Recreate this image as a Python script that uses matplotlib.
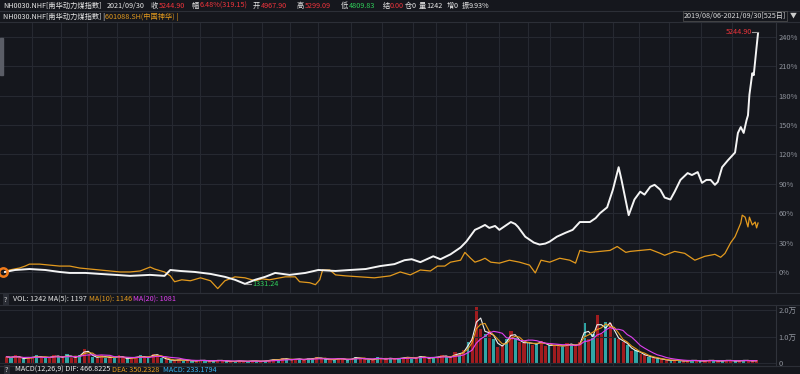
import numpy as np
import pandas as pd
import matplotlib
matplotlib.use("Agg")
import matplotlib.pyplot as plt

plt.rcParams['font.family'] = ['Noto Sans CJK SC', 'DejaVu Sans']

# --- data (trading-day index, % change from 2019/08/06) ---
days_coal = [0, 7, 17, 28, 38, 45, 56, 66, 77, 87, 101, 111, 115, 122, 132, 143, 153, 160, 167,
             174, 181, 188, 198, 209, 218, 230, 240, 251, 261, 271, 278, 283, 289, 298, 303, 310,
             317, 321, 327, 330, 334, 337, 341, 344, 348, 352, 355, 357, 362, 368, 372, 376, 379,
             384, 390, 395, 400, 404, 407, 411, 414, 419, 423, 427, 429, 434, 438, 442, 445, 449,
             452, 456, 459, 463, 466, 470, 475, 478, 482, 485, 488, 491, 494, 496, 499, 503, 508,
             510, 512, 514, 516, 517, 518, 520, 521, 523, 524]
pct_coal = [0, 2, 3, 2, 0, -1, -1, -2, -3, -4, -3, -4, 2, 1, 0, -2, -5, -8, -12.2,
            -8, -5, -1, -3, -1, 2, 1, 2, 3, 6, 8, 12, 13, 10, 16, 13, 18,
            25, 31, 43, 45, 48, 45, 47, 43, 47, 51, 49, 46, 36, 30, 28, 29, 31,
            36, 40, 43, 51, 51, 51, 55, 60, 66, 84, 107, 94, 58, 74, 82, 79, 87,
            89, 84, 76, 74, 82, 94, 101, 99, 102, 91, 94, 94, 89, 92, 107, 114, 122,
            142, 148, 142, 155, 160, 181, 203, 201, 230, 244]

days_shenhua = [0, 3, 10, 14, 17, 24, 31, 38, 45, 52, 59, 66, 73, 80, 87, 94, 101, 104, 111,
                115, 118, 123, 129, 136, 143, 148, 153, 160, 167, 174, 179, 184, 195, 202, 205,
                212, 216, 219, 221, 226, 230, 237, 247, 257, 268, 275, 282, 289, 296, 301, 306,
                310, 317, 320, 324, 327, 331, 334, 338, 344, 351, 358, 365, 369, 373, 379, 386,
                393, 397, 400, 407, 414, 421, 426, 432, 435, 442, 449, 456, 459, 466, 473, 480,
                487, 494, 498, 501, 505, 508, 512, 513, 515, 517, 518, 520, 522, 523, 524]
pct_shenhua = [0, 2, 4, 6, 8, 8, 7, 6, 6, 4, 3, 2, 1, 0, 0, 1, 5, 3, 0,
               -4, -10, -8, -9, -6, -9, -17, -9, -5, -6, -9, -7, -8, -5, -5, -10,
               -11, -13, -8, 2, 2, -3, -4, -5, -6, -4, 0, -3, 2, 1, 6, 6,
               10, 12, 20, 14, 10, 12, 14, 10, 9, 12, 10, 7, -1, 12, 10, 14,
               12, 9, 22, 20, 21, 22, 26, 20, 21, 22, 23, 19, 17, 21, 19, 12,
               16, 18, 15, 19, 30, 36, 50, 58, 56, 46, 56, 48, 51, 45, 50]

# volume (万手), one bar per 3 trading days
vol = [0.25, 0.2, 0.3, 0.2, 0.15, 0.25, 0.2, 0.3, 0.2, 0.25, 0.2, 0.3, 0.25, 0.2, 0.35, 0.2, 0.25, 0.3, 0.55, 0.35,
       0.25, 0.2, 0.3, 0.2, 0.25, 0.2, 0.3, 0.2, 0.15, 0.25, 0.2, 0.3, 0.2, 0.25, 0.35, 0.3, 0.2,
       0.15, 0.12, 0.1, 0.15, 0.1, 0.12, 0.08, 0.1, 0.12, 0.1, 0.08, 0.1, 0.12, 0.1,
       0.08, 0.06, 0.08, 0.1, 0.06, 0.08, 0.1, 0.08, 0.07,
       0.1, 0.12, 0.15, 0.12, 0.2, 0.15, 0.12, 0.18, 0.15, 0.12, 0.2, 0.15, 0.25, 0.15, 0.18, 0.12,
       0.15, 0.2, 0.15, 0.12, 0.18, 0.25, 0.15, 0.2, 0.12, 0.15, 0.22, 0.15, 0.18, 0.2, 0.15, 0.2,
       0.2, 0.25, 0.18, 0.22, 0.28, 0.2, 0.18, 0.25, 0.22, 0.3, 0.25, 0.2, 0.42, 0.3,
       0.5, 0.8, 1.0,
       2.1, 1.3, 1.1, 1.2, 0.9, 0.6, 0.7, 0.9, 1.2, 0.95, 0.8, 0.75, 0.8, 0.7, 0.75, 0.85, 0.65, 0.7,
       0.65, 0.7, 0.6, 0.75, 0.7, 0.65, 0.8, 1.5, 0.9, 1.1, 1.8, 1.1, 1.55, 1.5, 1.0, 0.9, 0.8, 0.7,
       0.45, 0.5, 0.35, 0.3, 0.25, 0.2, 0.18,
       0.15, 0.12, 0.1, 0.12, 0.1, 0.08, 0.1, 0.12, 0.1, 0.08, 0.1, 0.12, 0.1, 0.08, 0.1, 0.12,
       0.1, 0.08, 0.1, 0.12, 0.1, 0.08, 0.12]
vol_up = ("rgrrgrrgrgrrgrgrrgrr" "grrgrgrrgrrgrgrrgrg" "rrgrgrrgrgrrgrgrrgrg"
          "rgrrgrgrrgrggrrgrgrr" "grgrrgrgrrgrgrrgrgrr" "grrgrrgrgrrrgrgrrgrg"
          "rrgrgrrgrrgrgrrgrgrr" "grgrrgrgrrgrgrrgrgrr" "grgrrgrgrrgrgrr")

month_starts = [19, 39, 57, 78, 100, 116, 136, 158, 179, 198, 218, 241, 262, 284, 300, 321,
                344, 364, 379, 402, 423, 441, 462, 484, 506]
pct_ticks = [0, 30, 60, 90, 120, 150, 180, 210, 240]

last_close = "5244.90"
low_close = "1331.24"

W, H = 800, 374
BG = '#15171d'
GRID = '#262931'
WHITE = '#e8e8e8'
RED = '#f0343c'
GREEN = '#2fcf5a'
ORANGE = '#e39a1e'
MAGENTA = '#e040f0'
CYAN = '#36b4f0'
GRAY = '#8f939c'
FS = 5.2


def rect(x0, y0, x1, y1):
    return [x0 / W, 1 - y1 / H, (x1 - x0) / W, (y1 - y0) / H]


def ftext(x, y, s, color=WHITE, size=FS, ha='left', **kw):
    fig.text(x / W, 1 - y / H, s, color=color, fontsize=size, va='center', ha=ha, **kw)


fig = plt.figure(figsize=(8, 3.74), dpi=100, facecolor=BG)

# ---- main axes ----
ax = fig.add_axes(rect(0, 23, 776, 293), facecolor=BG)
ax.set_xlim(-3.5, 536.5)
ax.set_ylim(-21.5, 254.3)
ax.set_xticks(month_starts)
ax.set_yticks(pct_ticks)
ax.grid(True, color=GRID, lw=0.8)
ax.tick_params(length=0, labelbottom=False, labelleft=False, labelright=True,
               colors=GRAY, labelsize=5.4, pad=2)
ax.yaxis.set_ticks_position('right')
ax.set_yticklabels([f"{v}%" for v in pct_ticks])
for s in ['top', 'left']:
    ax.spines[s].set_visible(False)
ax.spines['right'].set_color('#30333b')
ax.spines['bottom'].set_color('#30333b')

ax.plot(days_shenhua, pct_shenhua, color=ORANGE, lw=0.9)
ax.plot(days_coal, pct_coal, color='#f4f4f4', lw=1.4)
ax.plot([days_shenhua[0] - 1.5], [pct_shenhua[0]], 'o', ms=6, mfc='none', mec='#f07a1a', mew=1.8)

# last / low labels
ax.plot([days_coal[-1] - 4, days_coal[-1]], [pct_coal[-1] + 1, pct_coal[-1] + 1], color='#999', lw=0.8)
ax.text(days_coal[-1] - 4.5, pct_coal[-1] + 1, last_close, color=RED, fontsize=FS, ha='right', va='center')
i_low = int(np.argmin(pct_coal))
ax.plot([days_coal[i_low] + 0.5, days_coal[i_low] + 4.5], [pct_coal[i_low]] * 2, color='#999', lw=0.8)
ax.text(days_coal[i_low] + 5, pct_coal[i_low], low_close, color=GREEN, fontsize=FS, ha='left', va='center')

# ---- volume axes ----
av = fig.add_axes(rect(0, 305, 776, 366), facecolor=BG)
vdays = np.arange(len(vol)) * 3
colors = ['#a01c1f' if c == 'r' else '#2fa6a6' for c in vol_up[:len(vol)]]
av.bar(vdays, vol, width=2.2, color=colors, align='edge')
vs = pd.Series(vol)
av.plot(vdays + 1, vs.rolling(2, min_periods=1).mean(), color='#f0f0f0', lw=0.8)
av.plot(vdays + 1, vs.rolling(3, min_periods=1).mean(), color=ORANGE, lw=0.8)
av.plot(vdays + 1, vs.rolling(7, min_periods=1).mean(), color=MAGENTA, lw=0.8)
av.set_xlim(-3.5, 536.5)
av.set_ylim(-0.1, 2.19)
av.set_xticks(month_starts)
av.set_yticks([0, 1.0, 2.0])
av.set_yticklabels(['0', '1.0万', '2.0万'])
av.grid(True, color=GRID, lw=0.8)
av.tick_params(length=0, labelbottom=False, labelleft=False, labelright=True,
               colors=GRAY, labelsize=5.4, pad=2)
av.yaxis.set_ticks_position('right')
for s in ['top', 'left']:
    av.spines[s].set_visible(False)
av.spines['right'].set_color('#30333b')
av.spines['bottom'].set_color('#30333b')

# separators
for y in [11, 22, 293, 305, 366]:
    fig.add_artist(plt.Line2D([0, 1], [1 - y / H] * 2, color='#2c2f37', lw=0.8))
fig.add_artist(plt.Rectangle((0, 1 - 75 / H), 2.5 / W, 37 / H, color='#5a5d66'))

# ---- header row 1 ----
ftext(3, 6, "NH0030.NHF[南华动力煤指数]")
ftext(107, 6, "2021/09/30")
for x, s, c in [(151, "收", WHITE), (159, "5244.90", RED), (192, "幅", WHITE), (200, "6.48%(319.15)", RED),
                (253, "开", WHITE), (261, "4967.90", RED), (297, "高", WHITE), (305, "5299.09", RED),
                (341, "低", WHITE), (349, "4809.83", GREEN), (383, "结", WHITE), (390, "0.00", RED),
                (405, "仓", WHITE), (412, "0", WHITE), (419, "量", WHITE), (426, "1242", WHITE),
                (447, "增", WHITE), (454, "0", WHITE), (462, "振", WHITE), (469, "9.93%", WHITE)]:
    ftext(x, 6, s, c)

# ---- header row 2 ----
ftext(3, 17, "NH0030.NHF[南华动力煤指数] |")
ftext(105, 17, "601088.SH(中国神华) |", ORANGE)
ftext(786, 16, "2019/08/06-2021/09/30[525日]", '#d8d8d8', ha='right',
      bbox=dict(boxstyle='square,pad=0.15', fc='none', ec='#555', lw=0.5))
ftext(790, 16, "▼", '#cccccc', size=5)

# ---- volume header ----
qbox = dict(boxstyle='square,pad=0.2', fc='#2a2d35', ec='none')
ftext(4, 299.5, "?", '#cccccc', bbox=qbox)
ftext(13, 299.5, "VOL: 1242 MA(5): 1197")
ftext(89, 299.5, "MA(10): 1146", ORANGE)
ftext(133, 299.5, "MA(20): 1081", MAGENTA)

# ---- MACD header ----
ftext(5, 370, "?", '#cccccc', bbox=qbox)
ftext(15, 370, "MACD(12,26,9) DIF: 466.8225")
ftext(112, 370, "DEA: 350.2328", ORANGE)
ftext(163, 370, "MACD: 233.1794", CYAN)

fig.savefig("out.png", dpi=100, facecolor=BG)
